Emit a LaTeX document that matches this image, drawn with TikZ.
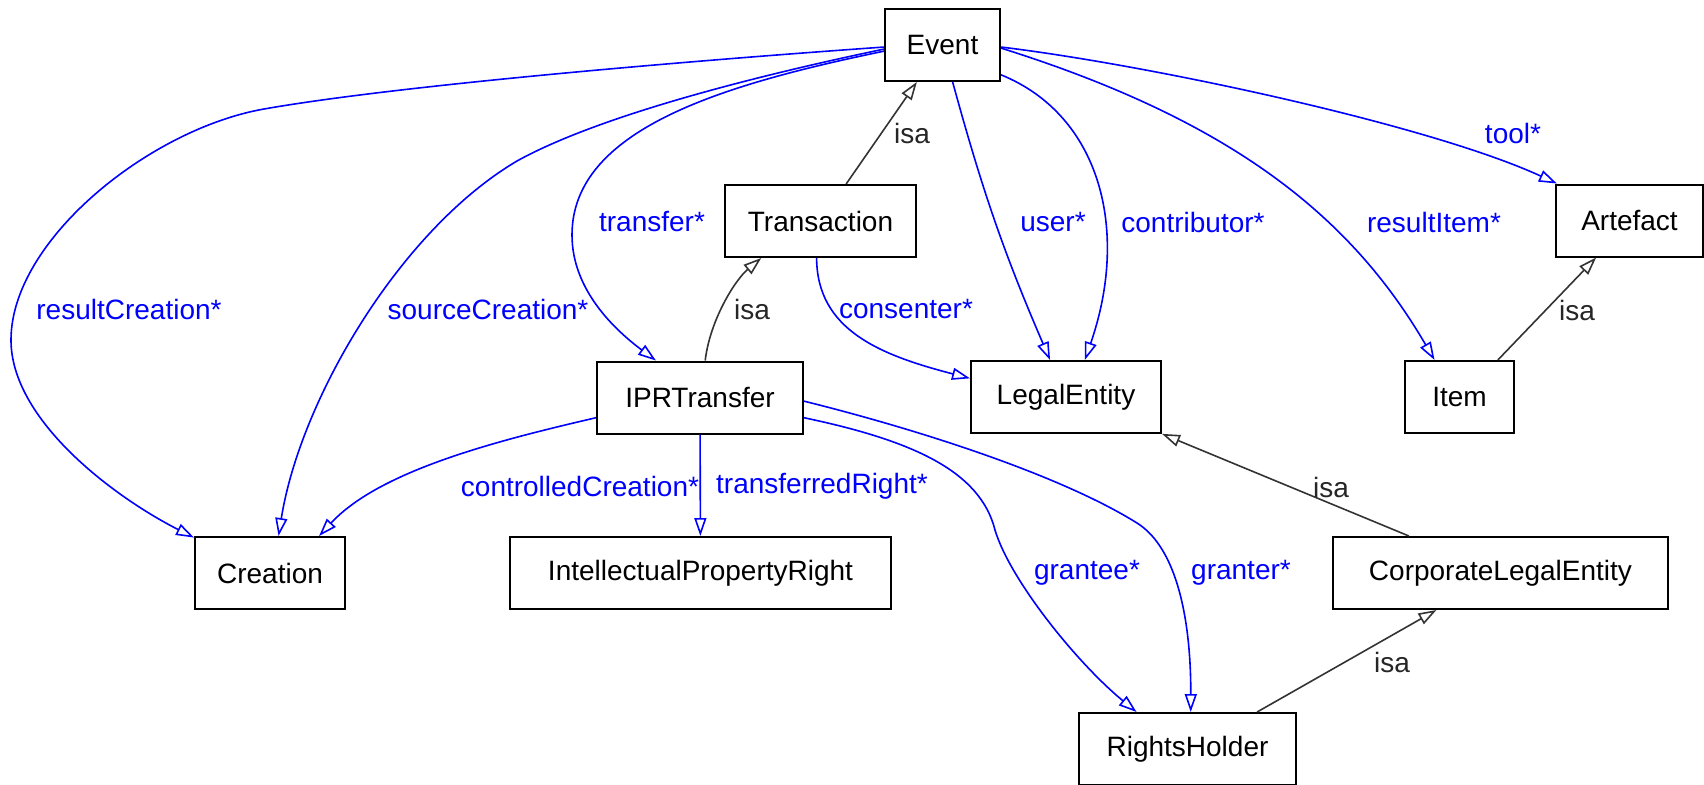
\documentclass[tikz,border=0pt]{standalone}
\usepackage{fontspec}
\setmainfont{Liberation Sans}
\usetikzlibrary{arrows.meta}

\tikzset{
  entity/.style={draw, line width=1pt, inner sep=0pt, minimum height=36pt, font=\fontsize{14}{16}\selectfont},
  role/.style={draw=blue, line width=0.8pt, ->},
  isa/.style={draw=black!80, line width=0.8pt, ->},
  role label/.style={text=blue, inner sep=0pt, font=\fontsize{14}{16}\selectfont},
  isa label/.style={text=black!85, inner sep=0pt, font=\fontsize{14}{16}\selectfont}
}

\begin{document}
\begin{tikzpicture}[x=0.5pt, y=-0.5pt, >={Triangle[open, length=9pt, width=6pt]}]
\useasboundingbox (0,0) rectangle (1704,784);
% classes
\foreach \n/\t/\x/\y/\w in {event/Event/942.5/45/115, transaction/Transaction/820.5/221/191,
    iprtransfer/IPRTransfer/700/397.5/206, legalentity/LegalEntity/1066/397/190,
    item/Item/1459.5/397/109, artefact/Artefact/1629.5/220.5/147,
    creation/Creation/270/573/150, ipright/IntellectualPropertyRight/700.5/573/381,
    corporate/CorporateLegalEntity/1500.5/573/335, rightsholder/RightsHolder/1187.5/749/217}
	\node [entity, minimum width=\w*0.5pt] (\n) at (\x,\y) {\t};

% roles of Event
\draw [role] (event.182) .. controls (700,60) and (400,85) .. (264,109)
	.. controls (150,129) and (11,240) .. (11,340)
	.. controls (11,420) and (114,497) .. (creation.155);
\draw [role] (event.184) .. controls (760,75) and (600,115) .. (517,161)
	.. controls (400,230) and (300,400) .. (creation.77);
\draw [role] (event.186) .. controls (720,85) and (572,130) .. (572,235)
	.. controls (572,290) and (615,330) .. (iprtransfer.140);
\draw [role] (event) to [bend right=4] (legalentity);
\draw [role] (event.333) .. controls (1100,115) and (1130,230) .. (legalentity.63);
\draw [role] (event.357) .. controls (1230,120) and (1350,215) .. (item.124);
\draw [role] (event.358) .. controls (1150,65) and (1430,125) .. (artefact.153);

% roles of Transaction and IPRTransfer
\draw [role] (transaction.264) .. controls (817,330) and (880,355) .. (legalentity.169);
\draw [role] (iprtransfer.191) .. controls (500,440) and (380,470) .. (creation.37);
\draw [role] (iprtransfer) -- (ipright);
\draw [role] (iprtransfer.349) .. controls (910,440) and (980,470) .. (995,530)
	.. controls (1010,580) and (1077,663) .. (rightsholder.144);
\draw [role] (iprtransfer.358) .. controls (920,430) and (1060,475) .. (1137,523)
	.. controls (1177,548) and (1191,620) .. (rightsholder.85);

% isa links
\draw [isa] (transaction) -- (event);
\draw [isa] (iprtransfer.82) .. controls (710,320) and (735,280) .. (transaction.212);
\draw [isa] (corporate.158) -- (legalentity.339);
\draw [isa] (rightsholder.28) -- (corporate.210);
\draw [isa] (item.44) -- (artefact.228);

% role labels
\foreach \n/\t/\x/\y in {lbl-resultcreation/resultCreation*/129/309, lbl-sourcecreation/sourceCreation*/488/309,
    lbl-transfer/transfer*/652/221, lbl-user/user*/1053/222, lbl-contributor/contributor*/1193/222,
    lbl-resultitem/resultItem*/1434/222, lbl-tool/tool*/1513/133, lbl-consenter/consenter*/906/309,
    lbl-controlledcreation/controlledCreation*/580/486, lbl-transferredright/transferredRight*/822/486,
    lbl-grantee/grantee*/1087/573, lbl-granter/granter*/1241/573}
	\node [role label] (\n) at (\x,\y) {\t};

% isa labels
\foreach \n/\x/\y in {isa-event/912/133, isa-transaction/752/309, isa-artefact/1577/310,
    isa-legalentity/1331/487, isa-corporate/1392/662}
	\node [isa label] (\n) at (\x,\y) {isa};

\end{tikzpicture}
\end{document}
